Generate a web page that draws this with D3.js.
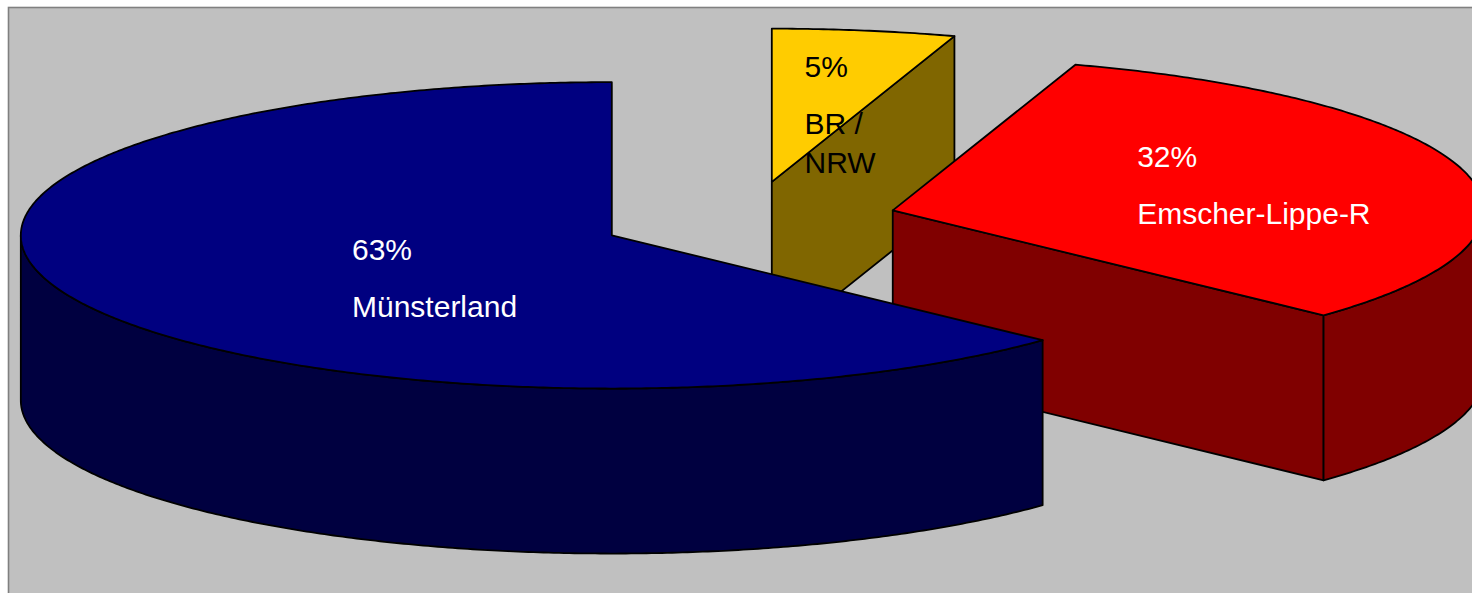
<!DOCTYPE html>
<html><head><meta charset="utf-8">
<script src="https://cdn.jsdelivr.net/npm/d3@7"></script>
<style>html,body{margin:0;padding:0;background:#fff;overflow:hidden}</style>
</head><body><svg id="chart" width="1472" height="593"></svg>
<script>
// ---- data ----
const categories = ["BR / NRW", "Emscher-Lippe-R", "Münsterland"];
const values = [5, 32, 63];
const percentLabels = ["5%", "32%", "63%"];
const topColors = ["#FFCC00", "#FF0000", "#000080"];
const sideColors = ["#806600", "#800000", "#000040"];
const labelColors = ["#000000", "#FFFFFF", "#FFFFFF"];

// ---- layout ----
const W = 1472, H = 593;
const cx = 748.5, cy = 220, rx = 591, ry = 153.2, depth = 165, explode = 0.252;
// label first-baseline offset from slice apex, in fractions of rx / ry (screen direction)
const labelOffsets = [[0.0553, -0.682], [0.4135, -0.2837], [-0.4396, 0.160]];
const labelWrap = [100, 1000, 1000];
const fontFamily = "'Liberation Sans', Arial, Helvetica, sans-serif";

const svg = d3.select("#chart");
// frame
svg.append("rect").attr("x", 0).attr("y", 0).attr("width", W).attr("height", H).attr("fill", "#ffffff");
svg.append("rect").attr("x", 8.5).attr("y", 7.5).attr("width", W + 20).attr("height", H + 20)
  .attr("fill", "#C0C0C0").attr("stroke", "#808080").attr("stroke-width", 1.6);

const xs = d3.scaleLinear().domain([-1, 1]).range([cx - rx, cx + rx]);
const ys = d3.scaleLinear().domain([-1, 1]).range([cy + ry, cy - ry]);

const pie = d3.pie().sort(null).value(d => d);
const arcs = pie(values).map((a, i) => {
  const m = (a.startAngle + a.endAngle) / 2;
  const ox = explode * Math.sin(m), oy = explode * Math.cos(m);
  return Object.assign({}, a, { i, ox, oy, mid: m });
});

function pt(s, ang, dz) {
  return [xs(s.ox + Math.sin(ang)), ys(s.oy + Math.cos(ang)) + (dz || 0)];
}
function apex(s, dz) {
  return [xs(s.ox), ys(s.oy) + (dz || 0)];
}
function arcPts(s, a0, a1, dz) {
  const n = Math.max(2, Math.ceil(Math.abs(a1 - a0) / (Math.PI / 360)));
  const out = [];
  for (let k = 0; k <= n; k++) out.push(pt(s, a0 + (a1 - a0) * k / n, dz));
  return out;
}
const line = d3.line();
const SW = 1.8;

// draw back to front
const order = arcs.slice().sort((a, b) => apex(a)[1] - apex(b)[1]);

order.forEach(s => {
  const g = svg.append("g");
  // radial faces facing the viewer
  const faces = [];
  if (Math.sin(s.startAngle) < -1e-6) faces.push(s.startAngle);
  if (Math.sin(s.endAngle) > 1e-6) faces.push(s.endAngle);
  faces.forEach(a => {
    const p = [apex(s), pt(s, a), pt(s, a, depth), apex(s, depth)];
    g.append("path").attr("d", line(p) + "Z")
      .attr("fill", sideColors[s.i]).attr("stroke", "#000").attr("stroke-width", SW)
      .attr("stroke-linejoin", "round");
  });
  // outer curved side (front half only)
  const a0 = Math.max(s.startAngle, Math.PI / 2), a1 = Math.min(s.endAngle, 3 * Math.PI / 2);
  if (a1 > a0) {
    const p = arcPts(s, a0, a1, 0).concat(arcPts(s, a1, a0, depth));
    g.append("path").attr("d", line(p) + "Z")
      .attr("fill", sideColors[s.i]).attr("stroke", "#000").attr("stroke-width", SW)
      .attr("stroke-linejoin", "round");
  }
  // top face
  const top = [apex(s)].concat(arcPts(s, s.startAngle, s.endAngle, 0));
  g.append("path").attr("d", line(top) + "Z")
    .attr("fill", topColors[s.i]).attr("stroke", "#000").attr("stroke-width", SW)
    .attr("stroke-linejoin", "round");
});

// labels
arcs.forEach(s => {
  const [ax, ay] = apex(s);
  const lx = ax + labelOffsets[s.i][0] * rx;
  const ly = ay + labelOffsets[s.i][1] * ry;
  const t = svg.append("text").attr("x", lx).attr("y", ly)
    .attr("font-family", fontFamily).attr("font-size", 30)
    .attr("fill", labelColors[s.i]);
  t.append("tspan").attr("x", lx).attr("y", ly).text(percentLabels[s.i]);
  // wrap category name
  const words = categories[s.i].split(" ");
  const lines = [];
  let cur = "";
  const probe = svg.append("text").attr("font-family", fontFamily).attr("font-size", 30);
  words.forEach(w => {
    const test = cur ? cur + " " + w : w;
    probe.text(test);
    if (cur && probe.node().getComputedTextLength() > labelWrap[s.i]) {
      lines.push(cur); cur = w;
    } else cur = test;
  });
  if (cur) lines.push(cur);
  probe.remove();
  lines.forEach((l, j) => {
    t.append("tspan").attr("x", lx).attr("y", ly + 57 + j * 38.3).text(l);
  });
});
</script>
</body></html>
